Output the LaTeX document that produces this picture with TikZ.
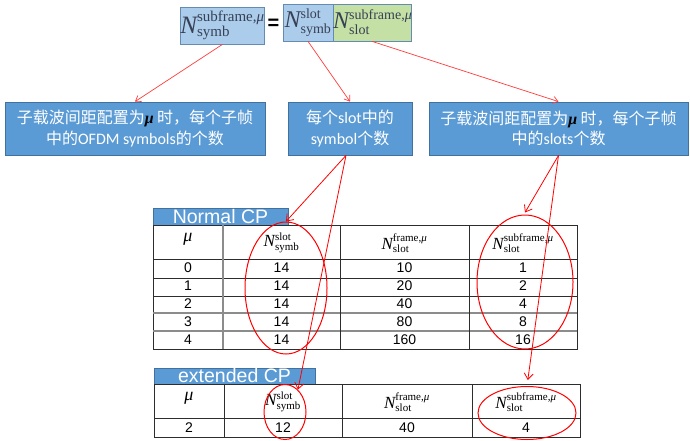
\documentclass[tikz,border=0pt]{standalone}
\usepackage{fontspec}
\setmainfont{Liberation Sans}
\newfontfamily\tnr{Liberation Serif}
\newfontfamily\cjk{Noto Sans CJK SC}
\newfontfamily\calib{Carlito}
\usetikzlibrary{arrows.meta,shapes.geometric,calc}
\definecolor{boxblue}{RGB}{91,155,213}
\definecolor{boxedge}{RGB}{65,113,156}
\definecolor{lightblue}{RGB}{172,204,235}
\definecolor{lightgreen}{RGB}{197,224,165}
\definecolor{topedge}{RGB}{100,140,178}
\definecolor{toptext}{RGB}{55,65,85}
\definecolor{arrred}{RGB}{255,60,60}
\definecolor{tline}{RGB}{45,45,45}
\definecolor{tgray}{RGB}{140,140,140}
\newcommand\NX[4]{{\fontsize{#1}{#1}\selectfont\tnr\itshape N\upshape$^{\mbox{\fontsize{#2}{#2}\selectfont\tnr #3}}_{\mbox{\fontsize{#2}{#2}\selectfont\tnr #4}}$}}
\newcommand\bmu{{\color{black}\tnr\bfseries\itshape μ}}
\begin{document}
\begin{tikzpicture}[x=1pt,y=-1pt,
  topbox/.style={draw=topedge, line width=0.7pt, inner sep=0pt, text=toptext},
  midbox/.style={draw=boxedge, fill=boxblue, line width=0.8pt, text=white, align=center, inner sep=0pt, minimum height=53pt, font=\cjk\fontsize{16}{20.5}\selectfont},
  cplabel/.style={draw=boxedge, fill=boxblue, line width=0.6pt, text=white, inner sep=0pt, font=\fontsize{19.5}{19.5}\selectfont},
  tnum/.style={font=\fontsize{14}{14}\selectfont, inner sep=0pt},
  thdr/.style={inner sep=0pt},
  redell/.style={draw=red, line width=1pt, ellipse, inner sep=0pt},
  toparr/.style={draw=arrred, line width=0.7pt, -{Straight Barb[length=5pt,width=7pt]}},
  lowarr/.style={draw=red, line width=0.8pt, -{Straight Barb[length=6pt,width=9pt]}},
  tl/.style={draw=tline, line width=0.8pt},
  tg/.style={draw=tgray, line width=1.2pt}]
\fill[white] (0,0) rectangle (690,441);
\useasboundingbox (0,0) rectangle (690,441);

% top formula
\node[topbox, fill=lightblue, minimum width=83pt, minimum height=37pt] (tlbox) at (222.5,25.5) {\NX{25}{15}{subframe,\itshape μ}{symb}};
\node[font=\fontsize{20}{20}\selectfont\bfseries, inner sep=0pt] (eq) at (273.5,24) {=};
\node[topbox, fill=lightblue, minimum width=50pt, minimum height=37pt] (tb) at (308,22.5) {};
\node[topbox, fill=lightgreen, minimum width=78pt, minimum height=37pt] (tg) at (372,22.5) {};
\node[inner sep=0pt, text=toptext] (tbt) at (308,22.5) {\NX{24}{14}{slot}{symb}};
\node[inner sep=0pt, text=toptext, anchor=west] (tgt) at (333,22.5) {\NX{24}{14}{subframe,\itshape μ}{slot}};

% middle boxes
\node[midbox, minimum width=260pt] (b1) at (135,128.5)
  {子载波间距配置为\bmu\ 时，每个子帧\\中的{\calib OFDM symbols}的个数};
\node[midbox, minimum width=124pt] (b2) at (350,128.5)
  {每个{\calib slot}中的\\{\calib symbol}个数};
\node[midbox, minimum width=259pt] (b3) at (558.5,128.5)
  {子载波间距配置为\bmu\ 时，每个子帧\\中的{\calib slots}个数};

% Normal CP table
\node[cplabel, minimum width=135pt, minimum height=17pt] (lab1) at (220.5,216.5) {Normal CP};
\draw[tl] (153,225) rectangle (577,349);
\foreach \y in {259,278,296} \draw[tl] (153,\y) -- (577,\y);
\foreach \y in {313,331} \draw[tg] (153,\y) -- (577,\y);
\draw[tg] (223,225) -- (223,349);
\foreach \x in {340,469} \draw[tl] (\x,225) -- (\x,349);
\node[thdr] (h1) at (188,239) {\fontsize{18}{18}\selectfont\tnr\itshape μ};
\node[thdr] (h2) at (281.5,243) {\NX{17}{11}{slot}{symb}};
\node[thdr] (h3) at (404.5,243) {\NX{17}{11}{frame,\itshape μ}{slot}};
\node[thdr] (h4) at (523,243) {\NX{17}{11}{subframe,\itshape μ}{slot}};
\foreach \m/\f/\s [count=\i] in {0/10/1,1/20/2,2/40/4,3/80/8,4/160/16}{
  \pgfmathsetmacro\yy{259+(\i-0.5)*18}
  \node[tnum] (r\i a) at (188,\yy) {\m};
  \node[tnum] (r\i b) at (281.5,\yy) {14};
  \node[tnum] (r\i c) at (404.5,\yy) {\f};
  \node[tnum] (r\i d) at (523,\yy) {\s};
}

% extended CP table
\node[cplabel, minimum width=161pt, minimum height=16pt] (lab2) at (234.5,376) {extended CP};
\draw[tl] (154,384) rectangle (580,437);
\draw[tl] (154,418) -- (580,418);
\foreach \x in {224,342,472} \draw[tl] (\x,384) -- (\x,437);
\node[thdr] (eh1) at (189,398) {\fontsize{18}{18}\selectfont\tnr\itshape μ};
\node[thdr] (eh2) at (283,402) {\NX{17}{11}{slot}{symb}};
\node[thdr] (eh3) at (407,402) {\NX{17}{11}{frame,\itshape μ}{slot}};
\node[thdr] (eh4) at (526,402) {\NX{17}{11}{subframe,\itshape μ}{slot}};
\node[tnum] (ea) at (189,427.5) {2};
\node[tnum] (eb) at (283,427.5) {12};
\node[tnum] (ec) at (407,427.5) {40};
\node[tnum] (ed) at (526,427.5) {4};

% red ellipses
\node[redell, minimum width=82pt, minimum height=132pt] (e1) at (286,288) {};
\node[redell, minimum width=96pt, minimum height=134pt] (e2) at (525,282) {};
\node[redell, minimum width=42pt, minimum height=55pt] (e3) at (285,412) {};
\node[redell, minimum width=98pt, minimum height=53pt] (e4) at (527,413) {};

% arrows
\draw[toparr] (tlbox.south) -- (b1.north);
\draw[toparr] (tb.south) -- (b2.north);
\draw[toparr] (tg.south) -- (b3.north);
\coordinate (b2o) at ($(b2.south)+(-4,0)$);
\draw[lowarr] (b2o) -- (e1.north);
\draw[lowarr] (b2o) -- (e3.60);
\draw[lowarr] (b3.south) -- ([yshift=2pt]e2.north);
\draw[lowarr, shorten >=6pt] (b3.south) -- (e4.north);
\end{tikzpicture}
\end{document}
